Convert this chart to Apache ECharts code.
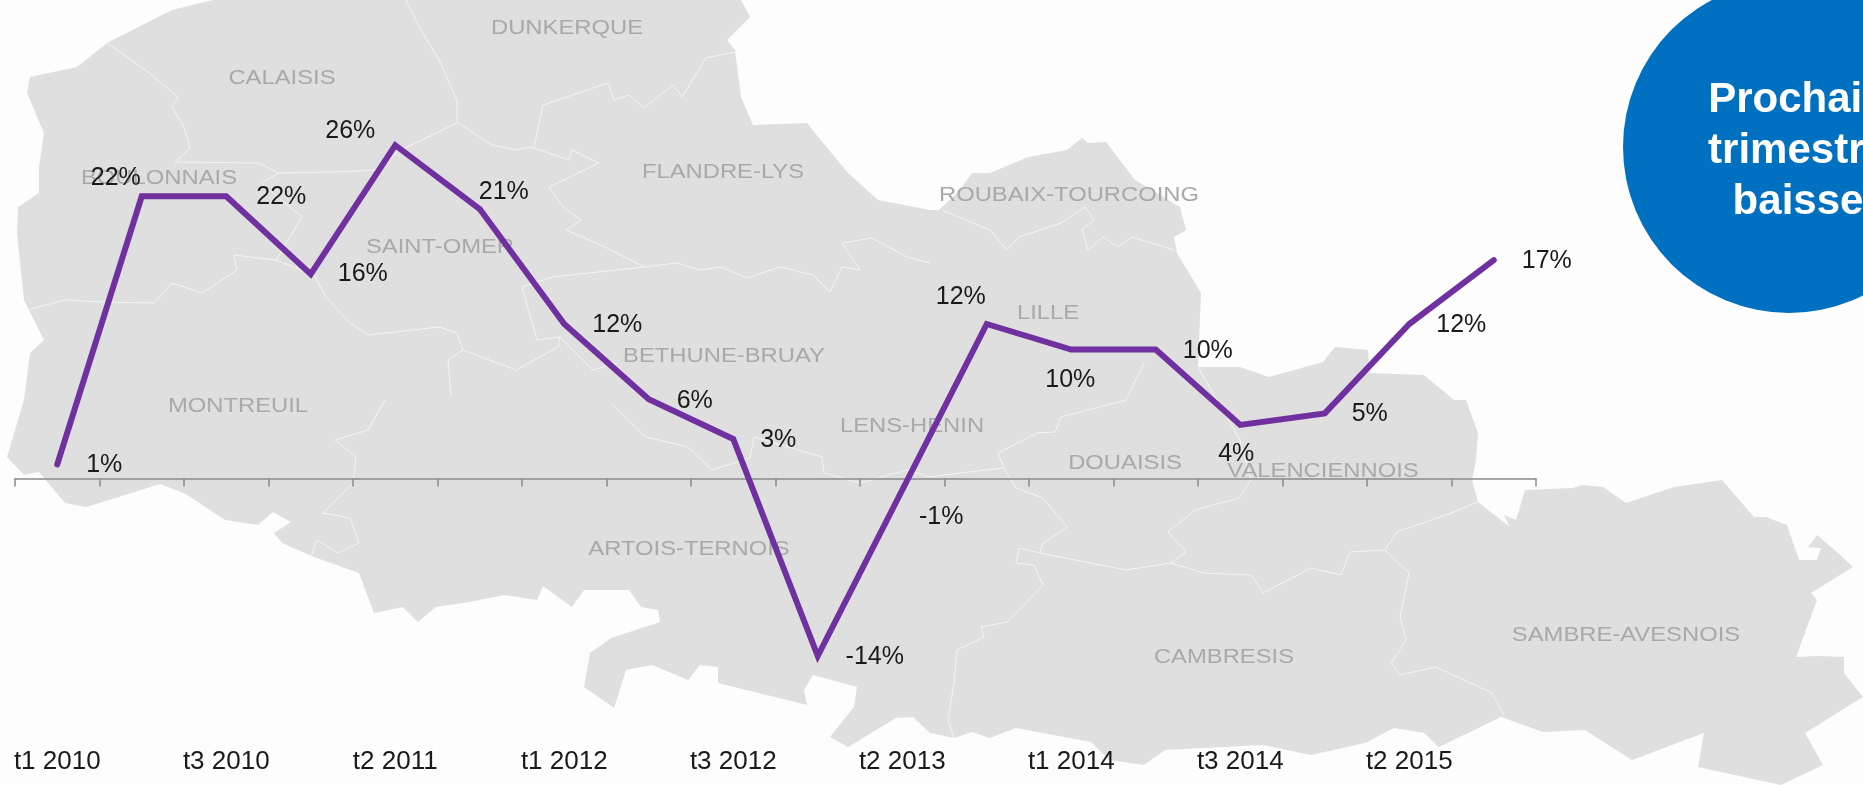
<!DOCTYPE html>
<html>
<head>
<meta charset="utf-8">
<title>Evolution par trimestre</title>
<style>
  html, body { margin: 0; padding: 0; background: #fdfdfd; overflow: hidden; }
  #chart { width: 1863px; height: 785px; }
</style>
<script src="https://cdn.jsdelivr.net/npm/echarts@6/dist/echarts.min.js"></script>
</head>
<body>
<div id="chart"></div>
<script>
const quarters = ['t1 2010', 't2 2010', 't3 2010', 't1 2011', 't2 2011', 't3 2011', 't1 2012', 't2 2012', 't3 2012',
  't1 2013', 't2 2013', 't3 2013', 't1 2014', 't2 2014', 't3 2014', 't1 2015', 't2 2015', 't3 2015']
const evolution = [1.1, 22.1, 22.1, 16.0, 26.1, 21.1, 12.1, 6.2, 3.1, -13.9, -0.9, 12.1, 10.1, 10.1, 4.2, 5.1, 12.1, 17.1]

// hand placed labels, px from the point
const labelOffsets = [[47, 1], [-26, -18], [55, 1], [52, 0], [-45, -14], [24, -17], [53, 1], [46, 2], [45, 1],
  [57, 1], [39, 27], [-26, -27], [-1, 31], [52, 2], [-4, 29], [45, 1], [52, 1], [53, 1]]

// background map of the zones, not data
const mapOutline = [[213, 0], [172, 10], [107, 43], [77, 67], [30, 77], [27, 93], [44, 133], [39, 167], [39, 193], [18, 207],
  [17, 233], [24, 300], [44, 340], [30, 353], [24, 400], [7, 457], [24, 475], [39, 472], [65, 503], [86, 507], [119, 497],
  [160, 484], [184, 493], [225, 520], [258, 525], [273, 512], [291, 522], [274, 533], [282, 543], [314, 557], [359, 573],
  [374, 613], [403, 607], [418, 622], [436, 607], [469, 602], [504, 595], [537, 600], [543, 586], [572, 607], [584, 590],
  [629, 590], [641, 607], [658, 610], [660, 622], [611, 638], [590, 653], [584, 687], [614, 708], [626, 670], [652, 665],
  [688, 680], [700, 665], [718, 667], [718, 683], [795, 702], [807, 705], [804, 690], [813, 675], [857, 687], [854, 707],
  [830, 737], [848, 747], [896, 718], [913, 717], [930, 733], [954, 738], [972, 732], [990, 738], [1016, 728], [1091, 742],
  [1109, 760], [1144, 765], [1165, 750], [1263, 745], [1311, 755], [1365, 743], [1394, 728], [1424, 733], [1439, 747],
  [1501, 717], [1543, 732], [1585, 730], [1632, 760], [1704, 733], [1698, 767], [1781, 785], [1823, 765], [1805, 733],
  [1863, 697], [1844, 673], [1844, 657], [1817, 656], [1796, 657], [1817, 600], [1811, 593], [1853, 567], [1838, 553],
  [1817, 535], [1808, 547], [1821, 548], [1817, 560], [1799, 560], [1787, 525], [1766, 517], [1754, 517], [1722, 480],
  [1674, 487], [1626, 503], [1603, 487], [1582, 485], [1573, 488], [1525, 490], [1516, 520], [1504, 515], [1510, 527],
  [1478, 502], [1472, 480], [1476, 460], [1478, 433], [1466, 400], [1454, 400], [1424, 375], [1370, 373], [1368, 350],
  [1335, 347], [1323, 362], [1269, 377], [1240, 367], [1198, 367], [1201, 293], [1177, 253], [1174, 237], [1186, 230],
  [1180, 207], [1135, 180], [1106, 142], [1088, 143], [1082, 138], [1067, 150], [1028, 157], [990, 173], [972, 173],
  [960, 190], [939, 210], [930, 210], [878, 200], [848, 173], [815, 133], [807, 123], [753, 125], [741, 97], [735, 50],
  [727, 40], [750, 17], [741, 0]]
const mapBorders = [
  [[406, 0], [421, 30], [439, 60], [457, 100], [457, 122], [474, 133], [492, 145], [516, 150], [531, 147], [569, 160], [572, 150],
    [599, 163], [549, 187], [563, 207], [581, 220], [566, 230], [605, 247], [644, 267], [677, 263], [700, 270], [721, 267],
    [747, 278], [780, 267], [813, 275], [830, 292], [842, 267], [860, 270], [842, 243], [872, 238], [907, 257], [930, 263]],
  [[942, 210], [990, 230], [1007, 250], [1019, 237], [1061, 223], [1085, 207], [1094, 220], [1082, 230], [1088, 250],
    [1103, 237], [1118, 247], [1132, 237], [1174, 250]],
  [[735, 52], [706, 58], [682, 97], [673, 85], [644, 108], [629, 95], [614, 100], [608, 83], [543, 105], [534, 147]],
  [[107, 43], [148, 72], [178, 97], [172, 107], [184, 127], [190, 148], [175, 162], [258, 163], [279, 173], [261, 183],
    [302, 217], [276, 260], [314, 275], [326, 297], [350, 323], [368, 335], [439, 327], [457, 333], [463, 350], [516, 370],
    [558, 347], [560, 337]],
  [[279, 173], [332, 172], [380, 170], [397, 152], [457, 123]],
  [[27, 310], [65, 300], [101, 302], [154, 303], [172, 283], [202, 293], [237, 270], [234, 255], [276, 260]],
  [[522, 287], [552, 277], [644, 267]],
  [[522, 287], [537, 340], [560, 337], [593, 370], [617, 363]],
  [[463, 350], [448, 360], [451, 395]],
  [[385, 400], [368, 430], [335, 440], [356, 457], [353, 483], [323, 513], [350, 518], [359, 543], [338, 553], [317, 540], [311, 557]],
  [[611, 403], [646, 437], [688, 447], [712, 470], [750, 458], [754, 437], [822, 457], [824, 473], [860, 483], [907, 470], [930, 477],
    [960, 473], [1004, 468], [998, 453], [1037, 433], [1055, 432], [1061, 417], [1126, 400], [1144, 363]],
  [[1004, 468], [1016, 488], [1043, 498], [1067, 527], [1043, 543], [1040, 553], [1019, 548], [1016, 563], [1034, 565], [1043, 585],
    [1007, 622], [981, 627], [984, 637], [957, 650], [954, 683], [948, 720], [954, 738]],
  [[1040, 553], [1126, 570], [1171, 563], [1204, 573], [1251, 575], [1263, 593], [1311, 568], [1341, 575], [1350, 552], [1385, 550],
    [1409, 573], [1400, 617], [1406, 640], [1391, 663], [1400, 675], [1436, 667], [1492, 693], [1504, 715]],
  [[1171, 563], [1186, 552], [1168, 532], [1195, 510], [1239, 498], [1251, 480], [1240, 440], [1198, 367]],
  [[1385, 550], [1397, 532], [1454, 512], [1478, 502]]
]
const zoneNames = ['DUNKERQUE', 'CALAISIS', 'BOULONNAIS', 'FLANDRE-LYS', 'ROUBAIX-TOURCOING', 'SAINT-OMER', 'LILLE', 'BETHUNE-BRUAY',
  'MONTREUIL', 'LENS-HENIN', 'DOUAISIS', 'VALENCIENNOIS', 'ARTOIS-TERNOIS', 'CAMBRESIS', 'SAMBRE-AVESNOIS']
const zoneCenters = [[567, 28], [282, 78], [159, 178], [723, 172], [1069, 195], [440, 247], [1048, 313], [724, 356],
  [238, 406], [912, 426], [1125, 463], [1323, 471], [689, 549], [1224, 657], [1626, 635]]

const chart = echarts.init(document.getElementById('chart'))

const mapGraphics = [
  { type: 'polygon', z: -3, shape: { points: mapOutline }, style: { fill: '#dfdfdf' } }
]
mapBorders.forEach((pts) => {
  mapGraphics.push({ type: 'polyline', z: -2, shape: { points: pts }, style: { stroke: '#f4f4f4', lineWidth: 1, fill: null } })
})
zoneNames.forEach((name, i) => {
  mapGraphics.push({
    type: 'text', z: -1, x: zoneCenters[i][0], y: zoneCenters[i][1], scaleX: 1.19,
    style: { text: name, fill: '#a9a9a9', font: '20px "Liberation Sans"', align: 'center', verticalAlign: 'middle' }
  })
})

chart.setOption({
  backgroundColor: '#fdfdfd',
  animation: false,
  graphic: mapGraphics.concat([
    { type: 'circle', z: 10, shape: { cx: 1789, cy: 147, r: 166 }, style: { fill: '#0070c0' } },
    {
      type: 'text', z: 11, x: 1798, y: 151,
      style: {
        text: 'Prochain\ntrimestre\nbaisse',
        fill: '#fff',
        font: 'bold 42px "Liberation Sans"',
        lineHeight: 51,
        align: 'center',
        verticalAlign: 'middle'
      }
    }
  ]),
  grid: { left: 15, width: 1521, top: 95.4, height: 638.5, outerBoundsMode: 'none' },
  xAxis: [
    {
      // the line with its ticks, on zero
      type: 'category',
      data: quarters,
      boundaryGap: true,
      axisLine: { onZero: true, lineStyle: { color: '#8a8a8a', width: 1.5 } },
      axisTick: { show: true, length: 8, interval: 0, alignWithLabel: false, lineStyle: { color: '#8a8a8a', width: 1.5 } },
      axisLabel: { show: false },
      splitLine: { show: false }
    },
    {
      // the tick labels stay at the bottom of the picture
      type: 'category',
      position: 'bottom',
      data: quarters,
      boundaryGap: true,
      axisLine: { show: false, onZero: false },
      axisTick: { show: false },
      axisLabel: { interval: 1, margin: 15, color: '#1a1a1a', fontFamily: 'Liberation Sans', fontSize: 26 },
      splitLine: { show: false }
    }
  ],
  yAxis: { type: 'value', min: -20, max: 30, show: false, splitLine: { show: false } },
  series: [
    {
      name: 'Evolution',
      type: 'line',
      xAxisIndex: 0,
      data: evolution,
      showSymbol: true,
      symbol: 'circle',
      symbolSize: 1,
      itemStyle: { color: '#7030a0' },
      lineStyle: { color: '#7030a0', width: 6, cap: 'round', join: 'miter' },
      label: {
        show: true,
        position: 'inside',
        color: '#1a1a1a',
        fontFamily: 'Liberation Sans',
        fontSize: 25,
        formatter: (p) => Math.round(p.value) + '%'
      },
      labelLayout: (params) => ({
        dx: labelOffsets[params.dataIndex][0],
        dy: labelOffsets[params.dataIndex][1],
        hideOverlap: false
      })
    }
  ]
})
</script>
</body>
</html>
